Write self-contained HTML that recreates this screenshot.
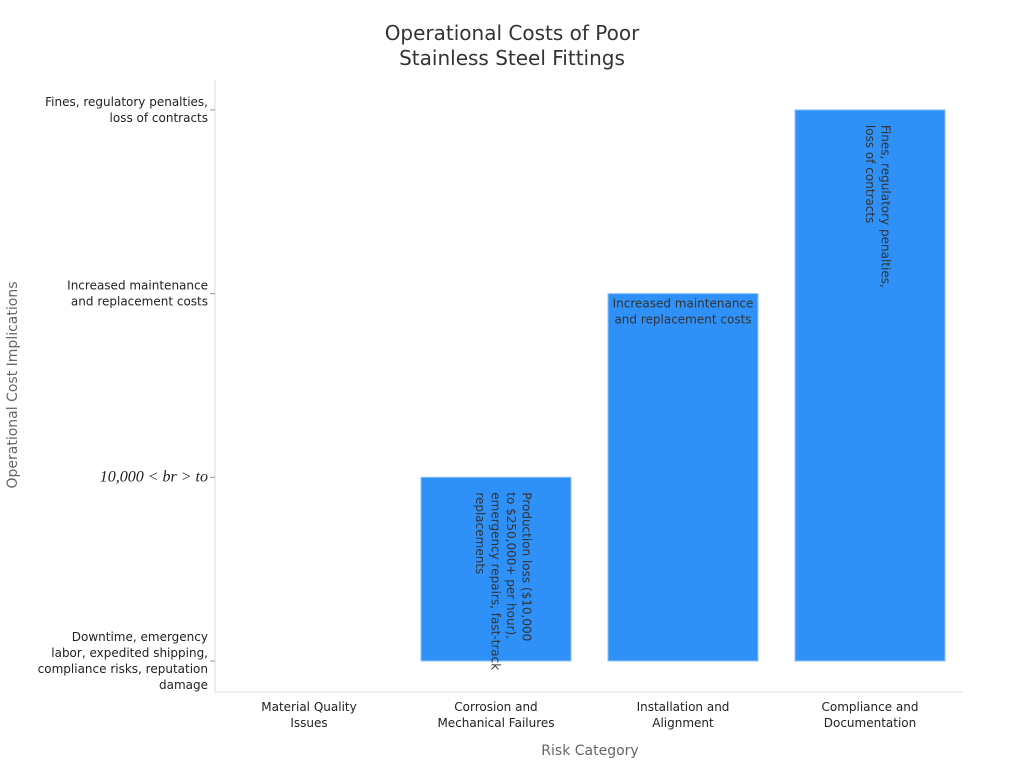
<!DOCTYPE html>
<html><head><meta charset="utf-8"><style>
body{margin:0;background:#fff;}
svg{font-family:"DejaVu Sans","Liberation Sans",sans-serif;}
</style></head><body>
<svg id="chart" width="1024" height="768" viewBox="0 0 1024 768">
<text x="512" y="40" text-anchor="middle" font-size="20" fill="#333"><tspan x="512">Operational Costs of Poor</tspan><tspan x="512" dy="25">Stainless Steel Fittings</tspan></text>
<g id="plot"></g>
<text x="590" y="755" text-anchor="middle" font-size="14" fill="#666">Risk Category</text>
<text transform="translate(17,385) rotate(-90)" text-anchor="middle" font-size="14" fill="#666">Operational Cost Implications</text>
</svg>
<script>
const categories = [["Material Quality","Issues"],["Corrosion and","Mechanical Failures"],["Installation and","Alignment"],["Compliance and","Documentation"]];
const yLevels = [["Downtime, emergency","labor, expedited shipping,","compliance risks, reputation","damage"],["10,000 < br > to"],["Increased maintenance","and replacement costs"],["Fines, regulatory penalties,","loss of contracts"]];
const values = [0, 1, 2, 3];
const barLabels = [[], ["Production loss ($10,000","to $250,000+ per hour),","emergency repairs, fast-track","replacements"], ["Increased maintenance","and replacement costs"], ["Fines, regulatory penalties,","loss of contracts"]];
const barRotated = [false, true, false, true];

const NS="http://www.w3.org/2000/svg";
const g=document.getElementById('plot');
const L=215,R=963,T=80,B=692;
const y0=661,yStep=183.7;
const xStep=187, xFirst=309, barW=150;
const xPos=i=>xFirst+i*xStep;
const yPos=v=>y0-v*yStep;
function mk(t,a){const e=document.createElementNS(NS,t);for(const k in a)e.setAttribute(k,a[k]);g.appendChild(e);return e;}
const ax=mk('path',{d:`M${L},${T}V${B}H${R}`,fill:'none',stroke:'#ddd'});


categories.forEach((c,i)=>{
  const t=mk('text',{x:xPos(i),y:711,'text-anchor':'middle','font-size':12,fill:'#222'});
  
  
  c.forEach((ln,j)=>{const s=document.createElementNS(NS,'tspan');s.setAttribute('x',xPos(i));if(j)s.setAttribute('dy',16);s.textContent=ln;t.appendChild(s);});
});
yLevels.forEach((lv,i)=>{
  const y=yPos(i);
  const tk=mk('line',{x1:L-5,x2:L,y1:y,y2:y,stroke:'#999'});
  
  
  const n=lv.length;
  const math=i===1;
  const t=mk('text',{x:208,y:y-(n-1)*8+4,'text-anchor':'end','font-size':math?16:12,fill:'#222','font-family':math?'"Liberation Serif",serif':'inherit','font-style':math?'italic':'normal'});
  
  
  lv.forEach((ln,j)=>{const s=document.createElementNS(NS,'tspan');s.setAttribute('x',208);if(j)s.setAttribute('dy',16);s.textContent=ln;t.appendChild(s);});
});
values.forEach((v,i)=>{
  const x=xPos(i)-barW/2, y=yPos(v);
  if(v>0){
    const r=mk('rect',{x:x,y:y,width:barW,height:y0-y,fill:'#2f91f7',stroke:'#8ec3fb','stroke-width':1});
    
    
  }
  const lab=barLabels[i]; if(!lab.length)return;
  if(barRotated[i]){
    const t=mk('text',{transform:`translate(${xPos(i)+(lab.length-1)*7.5+4},${y+15}) rotate(90)`,'font-size':12,fill:'#333'});
    
    
    lab.forEach((ln,j)=>{const s=document.createElementNS(NS,'tspan');s.setAttribute('x',0);if(j)s.setAttribute('dy',15.5);s.textContent=ln;t.appendChild(s);});
  } else {
    const t=mk('text',{x:xPos(i),y:y+14,'text-anchor':'middle','font-size':12,fill:'#333'});
    
    
    lab.forEach((ln,j)=>{const s=document.createElementNS(NS,'tspan');s.setAttribute('x',xPos(i));if(j)s.setAttribute('dy',16);s.textContent=ln;t.appendChild(s);});
  }
});
</script>
</body></html>
